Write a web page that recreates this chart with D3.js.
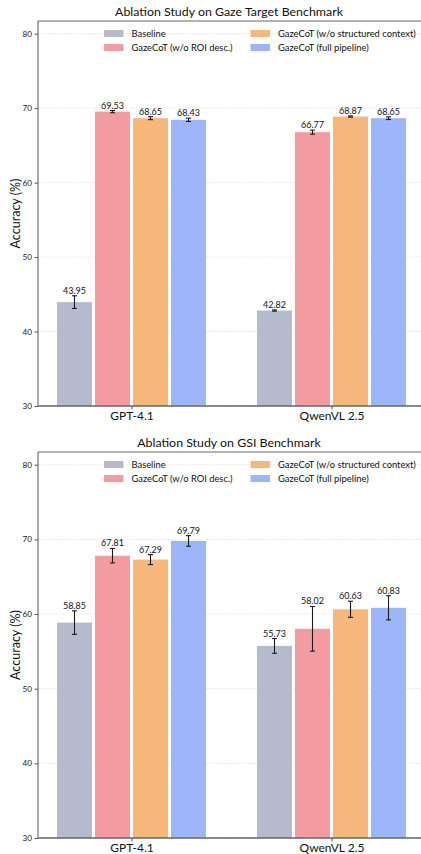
<!DOCTYPE html>
<html>
<head>
<meta charset="utf-8">
<script src="https://cdn.jsdelivr.net/npm/d3@7"></script>
<style>
  html, body { margin: 0; padding: 0; background: #fff; }
  svg { display: block; font-family: Lato, "Open Sans", sans-serif; }
</style>
</head>
<body>
<svg id="chart" width="421" height="854"></svg>
<script>
// ---------- data ----------
const categories = ["GPT-4.1", "QwenVL 2.5"];
const seriesNames = ["Baseline", "GazeCoT (w/o ROI desc.)", "GazeCoT (w/o structured context)", "GazeCoT (full pipeline)"];
const seriesColors = ["#b4bbcc", "#f29ca1", "#f6b77b", "#9db6f9"];
const yTicks = [30, 40, 50, 60, 70, 80];

// Gaze Target benchmark
const gazeBaseline = [43.95, 42.82];
const gazeNoRoi = [69.53, 66.77];
const gazeNoCtx = [68.65, 68.87];
const gazeFull = [68.43, 68.65];
const gazeBaselineErr = [0.85, 0.08];
const gazeNoRoiErr = [0.15, 0.27];
const gazeNoCtxErr = [0.2, 0.08];
const gazeFullErr = [0.22, 0.18];

// GSI benchmark
const gsiBaseline = [58.85, 55.73];
const gsiNoRoi = [67.81, 58.02];
const gsiNoCtx = [67.29, 60.63];
const gsiFull = [69.79, 60.83];
const gsiBaselineErr = [1.57, 0.99];
const gsiNoRoiErr = [0.97, 2.99];
const gsiNoCtxErr = [0.67, 1.08];
const gsiFullErr = [0.71, 1.62];

const panels = [
  { title: "Ablation Study on Gaze Target Benchmark", top: 21, bottom: 406,
    values: [gazeBaseline, gazeNoRoi, gazeNoCtx, gazeFull],
    errors: [gazeBaselineErr, gazeNoRoiErr, gazeNoCtxErr, gazeFullErr] },
  { title: "Ablation Study on GSI Benchmark", top: 452, bottom: 838,
    values: [gsiBaseline, gsiNoRoi, gsiNoCtx, gsiFull],
    errors: [gsiBaselineErr, gsiNoRoiErr, gsiNoCtxErr, gsiFullErr] }
];

const svg = d3.select("#chart");
const left = 38, right = 421;
const ink = "#111";

// font size giving a target width for a sample string (reference uses a narrow font)
function fitSize(sample, target) {
  const t = svg.append("text").attr("font-size", 10).text(sample);
  const w = t.node().getComputedTextLength();
  t.remove();
  return 10 * target / w;
}
const fsTitle = fitSize("Ablation Study on Gaze Target Benchmark", 228);
const fsLegend = fitSize("GazeCoT (w/o structured context)", 138);
const fsValue = fitSize("69.53", 23);
const fsXTick = fitSize("QwenVL 2.5", 65);
const fsYTick = fitSize("60", 9.5);
const fsYLabel = fitSize("Accuracy (%)", 70);

const x = d3.scalePoint().domain(categories).range([131.5, 331.5]);
const xs = d3.scaleBand().domain(d3.range(seriesNames.length)).range([-76, 76]).paddingInner(0);

panels.forEach(p => {
  const g = svg.append("g");
  const y = d3.scaleLinear().domain([30, 81.7]).range([p.bottom, p.top]);

  // grid
  g.append("g").selectAll("line").data(yTicks).join("line")
    .attr("x1", left).attr("x2", right)
    .attr("y1", d => y(d)).attr("y2", d => y(d))
    .attr("stroke", "#e2e2e2").attr("stroke-width", 0.8).attr("stroke-dasharray", "2,1.5");

  // bars
  seriesNames.forEach((s, si) => {
    const sg = g.append("g");
    const data = categories.map((c, ci) => ({ c, v: p.values[si][ci], e: p.errors[si][ci] }));
    sg.selectAll("rect").data(data).join("rect")
      .attr("x", d => x(d.c) + xs(si) + 1.5)
      .attr("width", xs.bandwidth() - 3)
      .attr("y", d => y(d.v))
      .attr("height", d => y(30) - y(d.v))
      .attr("fill", seriesColors[si]);
    // error bars
    const eb = sg.selectAll("g.eb").data(data).join("g").attr("class", "eb")
      .attr("stroke", "#1a1a1a").attr("stroke-width", 1.1);
    eb.append("line")
      .attr("x1", d => x(d.c) + xs(si) + xs.bandwidth() / 2)
      .attr("x2", d => x(d.c) + xs(si) + xs.bandwidth() / 2)
      .attr("y1", d => y(d.v - d.e)).attr("y2", d => y(d.v + d.e));
    [-1, 1].forEach(sgn => {
      eb.append("line")
        .attr("x1", d => x(d.c) + xs(si) + xs.bandwidth() / 2 - 2.5)
        .attr("x2", d => x(d.c) + xs(si) + xs.bandwidth() / 2 + 2.5)
        .attr("y1", d => y(d.v + sgn * d.e)).attr("y2", d => y(d.v + sgn * d.e));
    });
    sg.selectAll("text").data(data).join("text")
      .attr("x", d => x(d.c) + xs(si) + xs.bandwidth() / 2)
      .attr("y", d => y(d.v + d.e) - 2)
      .attr("text-anchor", "middle")
      .attr("font-size", fsValue).attr("fill", ink)
      .text(d => d.v.toFixed(2));
  });

  // axes frame
  g.append("line").attr("x1", left).attr("x2", left).attr("y1", p.top).attr("y2", p.bottom)
    .attr("stroke", "#666").attr("stroke-width", 1.1);
  g.append("line").attr("x1", left).attr("x2", right).attr("y1", p.top).attr("y2", p.top)
    .attr("stroke", "#666").attr("stroke-width", 1.1);
  g.append("line").attr("x1", left).attr("x2", right).attr("y1", p.bottom).attr("y2", p.bottom)
    .attr("stroke", "#666").attr("stroke-width", 1.3);

  // y axis
  const ya = g.append("g").attr("transform", `translate(${left},0)`)
    .call(d3.axisLeft(y).tickValues(yTicks).tickSize(3.5).tickPadding(2.5));
  ya.select(".domain").remove();
  ya.selectAll(".tick line").attr("stroke", "#555");
  ya.selectAll(".tick text").attr("font-size", fsYTick).attr("fill", "#222").attr("font-family", "Lato, sans-serif");

  // x axis
  const xa = g.append("g").attr("transform", `translate(0,${p.bottom})`)
    .call(d3.axisBottom(x).tickSize(3.5).tickPadding(2));
  xa.select(".domain").remove();
  xa.selectAll(".tick line").attr("stroke", "#555");
  xa.selectAll(".tick text").attr("font-size", fsXTick).attr("fill", ink).attr("font-family", "Lato, sans-serif");

  // y label
  g.append("text")
    .attr("transform", `translate(15.5,${(p.top + p.bottom) / 2}) rotate(-90)`)
    .attr("text-anchor", "middle").attr("dominant-baseline", "central")
    .attr("font-size", fsYLabel).attr("fill", ink).text("Accuracy (%)");

  // title
  g.append("text").attr("x", (left + 420) / 2).attr("y", p.top - 5)
    .attr("text-anchor", "middle").attr("font-size", fsTitle).attr("fill", ink).text(p.title);

  // legend
  const lx = [104, 250.5], ly = [p.top + 12.5, p.top + 26.5];
  const order = [[0, 0], [0, 1], [1, 0], [1, 1]]; // col,row for series 0..3
  seriesNames.forEach((s, si) => {
    const [col, row] = order[si];
    const lg = g.append("g").attr("transform", `translate(${lx[col]},${ly[row]})`);
    lg.append("rect").attr("x", 0).attr("y", -3.5).attr("width", 19.5).attr("height", 7)
      .attr("fill", seriesColors[si]);
    lg.append("text").attr("x", 27.5).attr("y", 0).attr("dominant-baseline", "central")
      .attr("font-size", fsLegend).attr("fill", ink).text(s);
  });
});
</script>
</body>
</html>
